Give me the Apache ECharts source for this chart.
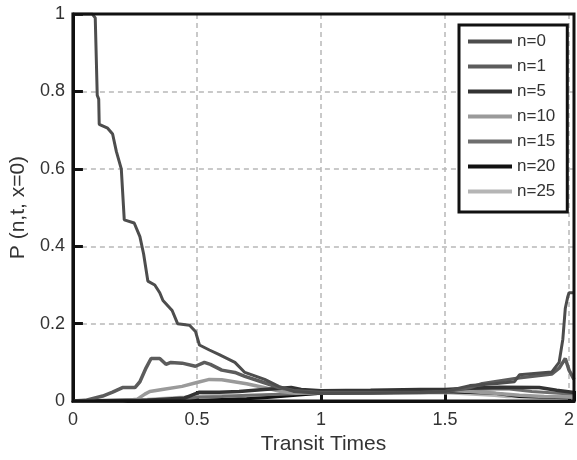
<!DOCTYPE html>
<html>
<head>
<meta charset="utf-8">
<script src="https://cdn.jsdelivr.net/npm/echarts@6/dist/echarts.min.js"></script>
<style>
  html, body { margin: 0; padding: 0; background: #fff; }
  #chart { width: 577px; height: 460px; }
</style>
</head>
<body>
<div id="chart"></div>
<script>
// Occupation probability P(n, t, x=0) against transit time, one curve per n.
const seriesNames = ['n=0', 'n=1', 'n=5', 'n=10', 'n=15', 'n=20', 'n=25'];
const xTicks = [0, 0.5, 1, 1.5, 2];
const yTicks = [0, 0.2, 0.4, 0.6, 0.8, 1];

const n0T = [0, 0.078, 0.09, 0.098, 0.104, 0.106, 0.14, 0.16, 0.175, 0.195, 0.207, 0.247, 0.27, 0.285, 0.302, 0.33, 0.35, 0.363, 0.40, 0.422, 0.47, 0.494, 0.51, 0.55, 0.59, 0.653, 0.693, 0.773, 0.83, 0.89, 1.0, 1.2, 1.4, 1.5, 1.6, 1.7, 1.78, 1.8, 1.93, 1.96, 1.975, 1.985, 1.995, 2.0, 2.02];
const n0P = [1, 1, 0.99, 0.79, 0.78, 0.715, 0.705, 0.69, 0.645, 0.60, 0.468, 0.46, 0.425, 0.38, 0.31, 0.30, 0.28, 0.26, 0.234, 0.20, 0.196, 0.18, 0.145, 0.132, 0.12, 0.10, 0.074, 0.056, 0.038, 0.025, 0.02, 0.02, 0.022, 0.025, 0.04, 0.045, 0.05, 0.068, 0.075, 0.10, 0.16, 0.24, 0.27, 0.28, 0.28];

const n1T = [0, 0.05, 0.12, 0.16, 0.2, 0.25, 0.27, 0.295, 0.315, 0.35, 0.375, 0.395, 0.44, 0.494, 0.53, 0.554, 0.6, 0.653, 0.693, 0.76, 0.83, 0.89, 1.0, 1.2, 1.4, 1.5, 1.6, 1.65, 1.8, 1.93, 1.96, 1.975, 1.985, 2.0, 2.02];
const n1P = [0, 0.002, 0.013, 0.023, 0.035, 0.035, 0.05, 0.086, 0.11, 0.11, 0.095, 0.10, 0.098, 0.09, 0.10, 0.095, 0.08, 0.074, 0.064, 0.05, 0.035, 0.027, 0.022, 0.022, 0.022, 0.024, 0.035, 0.045, 0.06, 0.07, 0.085, 0.10, 0.11, 0.08, 0.056];

const n5T = [0, 0.3, 0.45, 0.47, 0.51, 0.59, 0.67, 0.77, 0.88, 0.92, 1.0, 1.2, 1.4, 1.5, 1.6, 1.72, 1.88, 1.95, 2.02];
const n5P = [0, 0.002, 0.008, 0.013, 0.023, 0.023, 0.025, 0.03, 0.035, 0.03, 0.027, 0.028, 0.03, 0.03, 0.033, 0.036, 0.035, 0.028, 0.022];

const n10T = [0, 0.2, 0.26, 0.29, 0.31, 0.36, 0.44, 0.5, 0.55, 0.6, 0.65, 0.7, 0.77, 0.84, 0.9, 1.0, 1.2, 1.5, 1.6, 1.7, 1.8, 1.9, 2.02];
const n10P = [0, 0.001, 0.005, 0.018, 0.025, 0.03, 0.038, 0.048, 0.056, 0.055, 0.05, 0.045, 0.035, 0.025, 0.02, 0.022, 0.025, 0.028, 0.025, 0.02, 0.015, 0.012, 0.01];

const n15T = [0, 0.45, 0.5, 0.6, 0.7, 0.84, 0.95, 1.0, 1.3, 1.5, 1.6, 1.75, 1.85, 2.02];
const n15P = [0, 0.005, 0.01, 0.012, 0.015, 0.018, 0.02, 0.022, 0.025, 0.027, 0.03, 0.032, 0.025, 0.018];

const n20T = [0, 0.5, 0.6, 0.7, 0.8, 0.9, 1.0, 1.3, 1.5, 1.7, 1.8, 2.02];
const n20P = [0, 0.002, 0.004, 0.006, 0.01, 0.015, 0.02, 0.022, 0.024, 0.02, 0.012, 0.008];

const n25T = [0, 0.3, 0.45, 0.55, 0.7, 0.8, 1.0, 1.5, 1.7, 1.75, 1.9, 2.02];
const n25P = [0, 0.004, 0.01, 0.015, 0.012, 0.015, 0.02, 0.022, 0.015, 0.012, 0.01, 0.012];

const seriesT = [n0T, n1T, n5T, n10T, n15T, n20T, n25T];
const seriesP = [n0P, n1P, n5P, n10P, n15P, n20P, n25P];

// Grey-scale line styles, one per curve.
const lineColors = ['#4d4d4d', '#5c5c5c', '#333333', '#9a9a9a', '#6e6e6e', '#111111', '#b5b5b5'];
const lineWidths = [3, 3.5, 3.5, 3.5, 3, 3, 3.5];
const zOrder = [9, 8, 7, 6, 5, 4, 3];

const fontFamily = '"Liberation Sans", Arial, sans-serif';
const xMin = 0, xMax = 2.02, yMin = 0, yMax = 1;
const frameColor = '#111';

const series = seriesNames.map((name, i) => ({
  name: name,
  type: 'line',
  symbol: 'none',
  showSymbol: false,
  z: zOrder[i],
  data: seriesT[i].map((t, k) => [t, seriesP[i][k]]),
  lineStyle: { color: lineColors[i], width: lineWidths[i] },
  itemStyle: { color: lineColors[i] }
}));

const isTick = (v, ticks) => ticks.some(t => Math.abs(t - v) < 1e-9);
const gridDash = { show: true, lineStyle: { color: '#b8b8b8', width: 1.5, type: [5, 4] } };
const frameLine = { show: true, onZero: false, lineStyle: { color: frameColor, width: 3 } };
const innerTick = { show: true, inside: true, length: 10, lineStyle: { color: frameColor, width: 3 } };

const chart = echarts.init(document.getElementById('chart'), null, { renderer: 'canvas' });
chart.setOption({
  animation: false,
  backgroundColor: '#ffffff',
  grid: { left: 69, top: 14, right: 1, bottom: 53 },
  legend: {
    z: 40,
    data: seriesNames.map((name, i) => ({ name: name, icon: 'rect', itemStyle: { color: lineColors[i] } })),
    orient: 'vertical',
    left: 459, top: 25,
    padding: [8, 12, 12, 9],
    itemGap: 8,
    itemWidth: 44,
    itemHeight: 4,
    borderColor: frameColor,
    borderWidth: 3,
    backgroundColor: '#fff',
    textStyle: { fontFamily: fontFamily, fontSize: 17, lineHeight: 17, color: '#333' }
  },
  xAxis: {
    type: 'value',
    min: xMin, max: xMax, interval: 0.5,
    name: 'Transit Times',
    nameLocation: 'middle',
    nameGap: 29,
    nameTextStyle: { fontFamily: fontFamily, fontSize: 21, color: '#333' },
    axisLine: frameLine,
    axisTick: innerTick,
    axisLabel: {
      margin: 10, fontFamily: fontFamily, fontSize: 18, color: '#333',
      formatter: v => isTick(v, xTicks) ? String(v) : ''
    },
    splitLine: gridDash
  },
  yAxis: {
    type: 'value',
    min: yMin, max: yMax, interval: 0.2,
    name: 'P (n,t, x=0)',
    nameLocation: 'middle',
    nameGap: 39,
    nameTextStyle: { fontFamily: fontFamily, fontSize: 21, color: '#333' },
    axisLine: frameLine,
    axisTick: innerTick,
    axisLabel: {
      margin: 8, fontFamily: fontFamily, fontSize: 18, color: '#333',
      formatter: v => isTick(v, yTicks) ? String(v) : ''
    },
    splitLine: gridDash
  },
  series: series
});

// Closed box around the plotting area, placed from the axis extents.
const topLeft = chart.convertToPixel({ gridIndex: 0 }, [xMin, yMax]);
const bottomRight = chart.convertToPixel({ gridIndex: 0 }, [xMax, yMin]);
chart.setOption({
  graphic: [{
    type: 'rect',
    z: 30,
    silent: true,
    shape: {
      x: topLeft[0], y: topLeft[1],
      width: bottomRight[0] - topLeft[0],
      height: bottomRight[1] - topLeft[1]
    },
    style: { fill: null, stroke: frameColor, lineWidth: 3 }
  }]
});
</script>
</body>
</html>
